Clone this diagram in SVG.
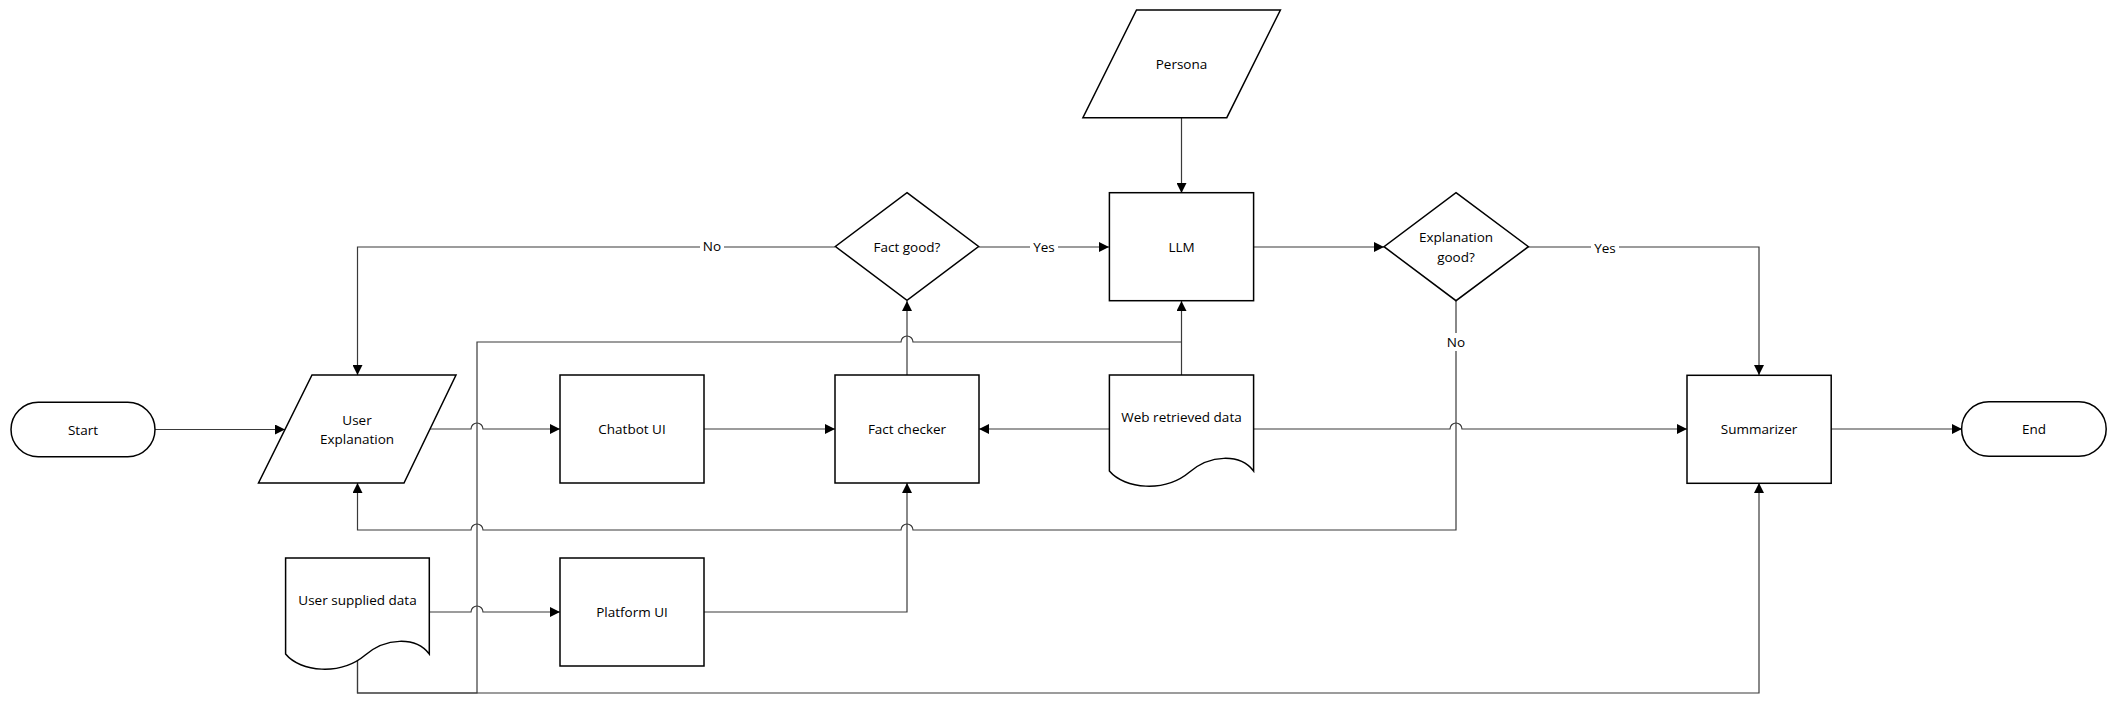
<svg xmlns="http://www.w3.org/2000/svg" width="2116" height="704" viewBox="0 0 2116 704">
<defs>
<style>
.n{fill:#fff;stroke:#000;stroke-width:1.5}
.t{font-family:"Open Sans","Liberation Sans",sans-serif;font-size:13.5px;fill:#000;text-anchor:middle;dominant-baseline:central}
.c{fill:none;stroke:#3a3a3a;stroke-width:1.2}
.a{marker-end:url(#arr)}
.lb{fill:#fff}
</style>
<marker id="arr" markerWidth="11" markerHeight="10" refX="10" refY="5" orient="auto" markerUnits="userSpaceOnUse">
<path d="M0,0 L10,5 L0,10 Z" fill="#000"/>
</marker>
</defs>
<rect width="2116" height="704" fill="#fff"/>

<g id="connectors">
<path class="c a" d="M155,429.5 H285"/>
<path class="c a" d="M430,429 H471 a6,6 0 0 1 12,0 H560"/>
<path class="c a" d="M704,429 H835"/>
<path class="c a" d="M1109,429 H979"/>
<path class="c a" d="M1253.6,429 H1450 a6,6 0 0 1 12,0 H1687"/>
<path class="c a" d="M1831,429 H1962"/>
<path class="c a" d="M907,375 V301"/>
<path class="c a" d="M978.6,247 H1109"/>
<path class="c a" d="M835,247 H357.5 V375"/>
<path class="c a" d="M1253.6,247 H1384"/>
<path class="c a" d="M1528,247 H1759 V375"/>
<path class="c a" d="M1456,300.7 V530 H913 a6,6 0 0 0 -12,0 H483 a6,6 0 0 0 -12,0 H357.5 V483"/>
<path class="c a" d="M1181.5,118 V193"/>
<path class="c a" d="M1181.5,375 V301"/>
<path class="c a" d="M429,612 H471 a6,6 0 0 1 12,0 H560"/>
<path class="c a" d="M704,612 H907 V483"/>
<path class="c" d="M357.5,660 V693 H477 V342 H901 a6,6 0 0 1 12,0 H1181.5"/>
<path class="c a" d="M357.5,660 V693 H1759 V483"/>
<rect class="lb" x="700" y="238" width="24" height="18"/>
<text class="t" x="712" y="246">No</text>
<rect class="lb" x="1030" y="238" width="28" height="18"/>
<text class="t" x="1044" y="247">Yes</text>
<rect class="lb" x="1591" y="239" width="28" height="18"/>
<text class="t" x="1605" y="248">Yes</text>
<rect class="lb" x="1444" y="333" width="24" height="18"/>
<text class="t" x="1456" y="342">No</text>
</g>

<g id="start">
<rect class="n" x="11" y="402.3" width="144" height="54.4" rx="27.2" ry="27.2"/>
<text class="t" x="83" y="429.5">Start</text>
</g>
<g id="user-explanation">
<path class="n" d="M312,375 H456 L404,483 H258.5 Z"/>
<text class="t" x="357" y="420">User</text>
<text class="t" x="357" y="439">Explanation</text>
</g>
<g id="chatbot-ui">
<rect class="n" x="560" y="375" width="144" height="108"/>
<text class="t" x="632" y="429">Chatbot UI</text>
</g>
<g id="fact-checker">
<rect class="n" x="835" y="375" width="144" height="108"/>
<text class="t" x="907" y="429">Fact checker</text>
</g>
<g id="fact-good">
<path class="n" d="M907,192.7 L978.6,246.5 L907,300.3 L835.4,246.5 Z"/>
<text class="t" x="907" y="246.5">Fact good?</text>
</g>
<g id="llm">
<rect class="n" x="1109.4" y="192.7" width="144.2" height="108"/>
<text class="t" x="1181.5" y="246.7">LLM</text>
</g>
<g id="persona">
<path class="n" d="M1136.5,10 H1280.4 L1226.8,117.7 H1082.9 Z"/>
<text class="t" x="1181.5" y="64">Persona</text>
</g>
<g id="explanation-good">
<path class="n" d="M1456,192.7 L1528.4,246.7 L1456,300.7 L1384,246.7 Z"/>
<text class="t" x="1456" y="237">Explanation</text>
<text class="t" x="1456" y="257">good?</text>
</g>
<g id="web-retrieved-data">
<path class="n" d="M1109.4,375 H1253.6 V471 C1239.6,453 1209.6,455 1189.6,472 C1164.6,493 1124.6,489 1109.4,471 Z"/>
<text class="t" x="1181.5" y="417">Web retrieved data</text>
</g>
<g id="summarizer">
<rect class="n" x="1687" y="375.3" width="144.2" height="108"/>
<text class="t" x="1759" y="429">Summarizer</text>
</g>
<g id="end">
<rect class="n" x="1961.6" y="401.7" width="144.6" height="54.6" rx="27.3" ry="27.3"/>
<text class="t" x="2034" y="429">End</text>
</g>
<g id="user-supplied-data">
<path class="n" d="M285.6,558 H429.3 V654 C415.3,636 385.3,638 365.3,655 C340.3,676 300.3,672 285.6,654 Z"/>
<text class="t" x="357.5" y="600">User supplied data</text>
</g>
<g id="platform-ui">
<rect class="n" x="560" y="558" width="144" height="108"/>
<text class="t" x="632" y="612">Platform UI</text>
</g>
</svg>
